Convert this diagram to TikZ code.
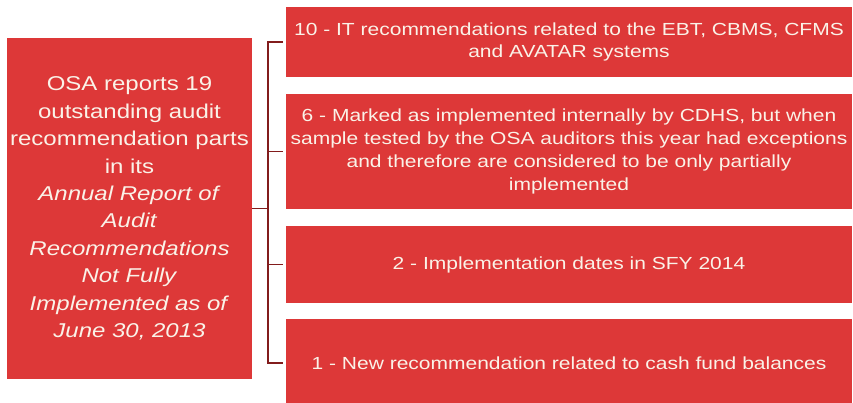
\documentclass[tikz,border=0pt]{standalone}
\usepackage{fontspec}
\setmainfont{Liberation Sans}[FakeStretch=1.2]
\definecolor{osared}{RGB}{221,56,56}
\definecolor{brackred}{RGB}{130,28,28}
\definecolor{paper}{RGB}{250,242,232}

\begin{document}
\begin{tikzpicture}[x=1pt,y=-1pt,
    redbox/.style={fill=osared,draw=none,text=paper,align=center,inner sep=0pt},
    leftfont/.style={font=\fontsize{20}{27.4}\selectfont},
    rightfont/.style={font=\fontsize{17.5}{22.8}\selectfont},
    brack/.style={draw=brackred,line width=1.8pt}]
    \useasboundingbox (0,0) rectangle (853,402);
    \clip (0,0) rectangle (853,402);
    % summary on the left
    \node[redbox,leftfont,minimum width=245,minimum height=341] (osa) at (129.5,208.5)
        {OSA reports 19\\ outstanding audit\\ recommendation parts\\ in its\\
         \textit{Annual Report of}\\ \textit{Audit}\\ \textit{Recommendations}\\
         \textit{Not Fully}\\ \textit{Implemented as of}\\ \textit{June 30, 2013}};
    % the four parts
    \node[redbox,rightfont,minimum width=566,minimum height=70] (it) at (569,42)
        {10 - IT recommendations related to the EBT, CBMS, CFMS\\ and AVATAR systems};
    \node[redbox,rightfont,minimum width=566,minimum height=115] (marked) at (569,151.5)
        {6 - Marked as implemented internally by CDHS, but when\\
         sample tested by the OSA auditors this year had exceptions\\
         and therefore are considered to be only partially\\ implemented};
    \node[redbox,rightfont,minimum width=566,minimum height=77] (dates) at (569,264.5)
        {2 - Implementation dates in SFY 2014};
    \node[redbox,rightfont,minimum width=566,minimum height=88] (cash) at (569,363)
        {1 - New recommendation related to cash fund balances};
    % bracket
    \coordinate (spine) at ([xshift=16]osa.east);
    \draw[brack] (osa.east) -- (spine);
    \draw[brack,line cap=rect] (spine |- it.west) -- (spine |- cash.west);
    \foreach \b in {it,marked,dates,cash}
        \draw[brack] (spine |- \b.west) -- ([xshift=-3]\b.west);
\end{tikzpicture}
\end{document}
